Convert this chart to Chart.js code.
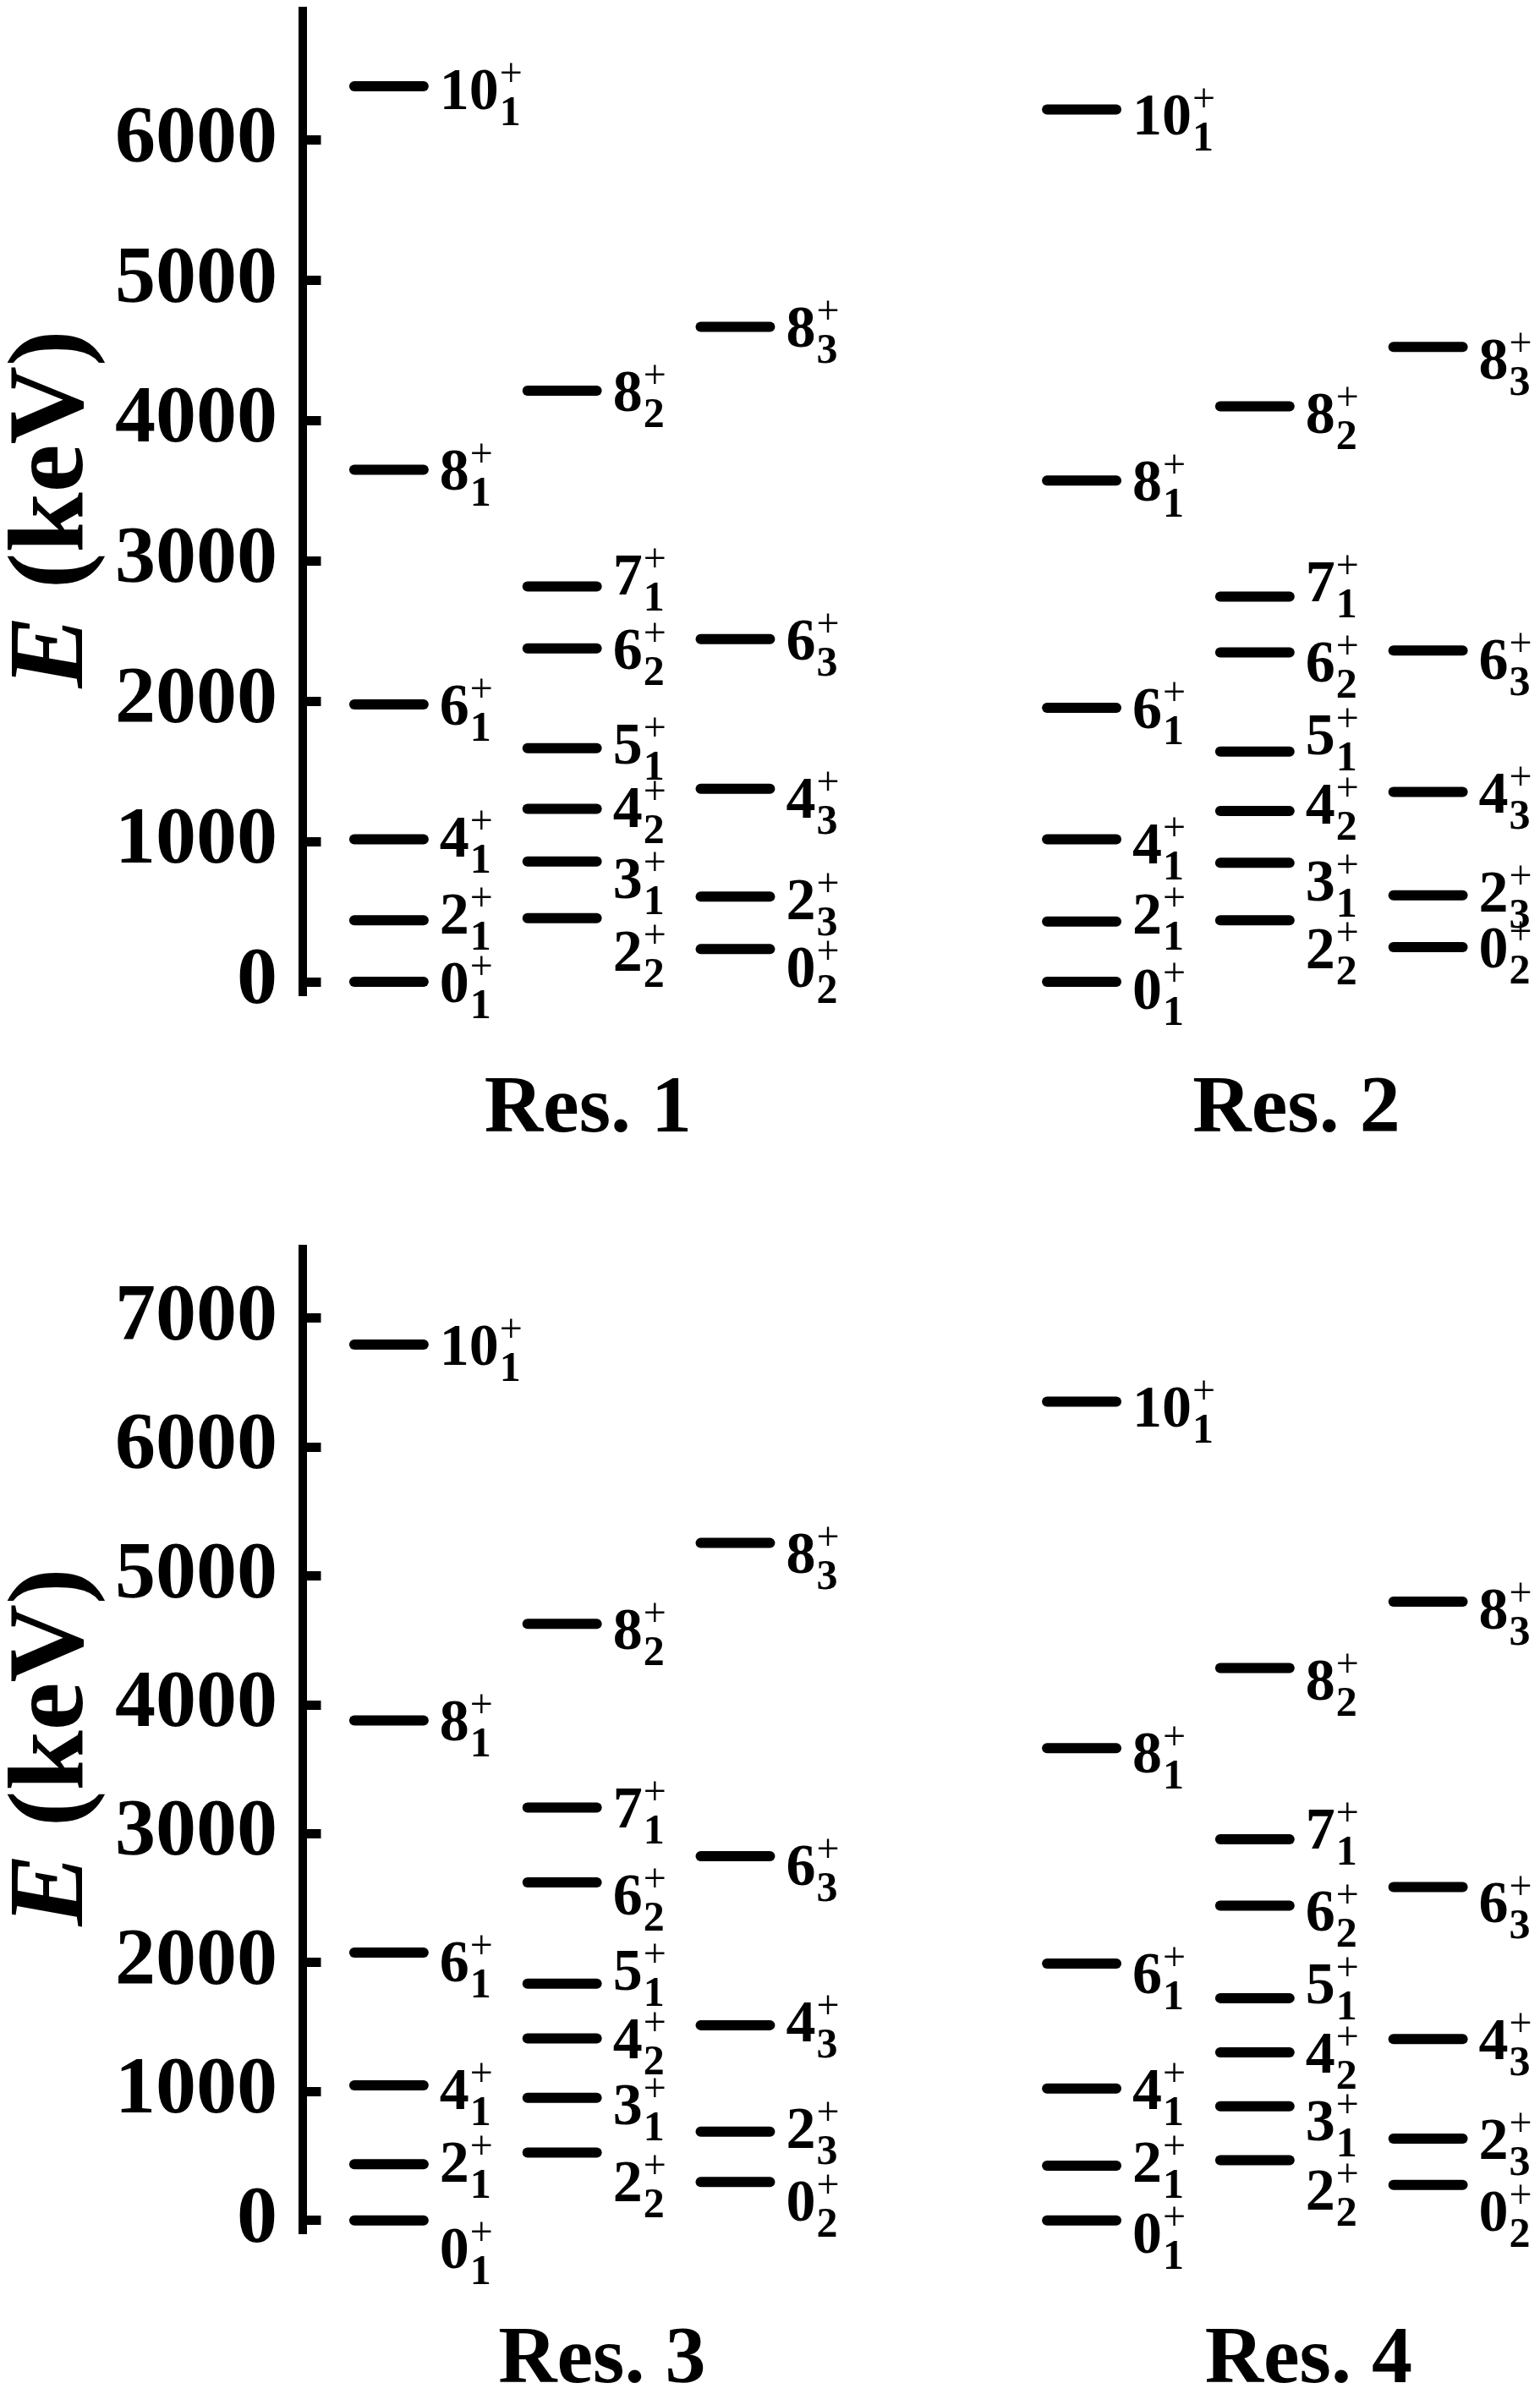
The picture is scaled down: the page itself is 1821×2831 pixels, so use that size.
<!DOCTYPE html>
<html>
<head>
<meta charset="utf-8">
<script src="https://cdn.jsdelivr.net/npm/chart.js@4.4.1/dist/chart.umd.min.js"></script>
<style>
  html, body { margin: 0; padding: 0; background: #fff; }
  canvas { display: block; }
</style>
</head>
<body>
<canvas id="topChart" width="1821" height="1400"></canvas>
<canvas id="bottomChart" width="1821" height="1431"></canvas>
<script>
// ---------- data ----------
// state names J_n, one list per column (same order as the energy lists)
const col1States = ['0_1', '2_1', '4_1', '6_1', '8_1', '10_1'];
const col2States = ['2_2', '3_1', '4_2', '5_1', '6_2', '7_1', '8_2'];
const col3States = ['0_2', '2_3', '4_3', '6_3', '8_3'];

// level energies in keV
const res1Col1 = [0, 439, 1016, 1978, 3651, 6385];
const res1Col2 = [454, 858, 1233, 1665, 2377, 2819, 4214];
const res1Col3 = [233, 607, 1377, 2444, 4670];

const res2Col1 = [0, 429, 1016, 1954, 3574, 6219];
const res2Col2 = [439, 848, 1218, 1641, 2348, 2747, 4103];
const res2Col3 = [247, 617, 1353, 2362, 4526];

const res3Col1 = [0, 437, 1048, 2078, 3880, 6796];
const res3Col2 = [527, 952, 1413, 1838, 2623, 3204, 4629];
const res3Col3 = [299, 689, 1515, 2826, 5257];

const res4Col1 = [0, 425, 1024, 1994, 3665, 6353];
const res4Col2 = [467, 886, 1305, 1725, 2443, 2958, 4287];
const res4Col3 = [275, 635, 1407, 2587, 4802];

const panelTitles = ['Res. 1', 'Res. 2', 'Res. 3', 'Res. 4'];
const topTicks = [0, 1000, 2000, 3000, 4000, 5000, 6000];
const bottomTicks = [0, 1000, 2000, 3000, 4000, 5000, 6000, 7000];

// ---------- layout / style ----------
const FONT = '"Liberation Serif", "Times New Roman", serif';
const columnSlots = [0, 1, 2];   // x slots of the three columns
const rightPanelShift = 4;       // second panel of a row starts 4 slots later
const HALF = 0.2;                // half length of a level bar (slot units)

// vertical label nudges in px (+ = down), to keep labels from colliding
const labelNudge = [
  { '10_1': 3, '2_1': -8, '4_1': -4, '7_1': -14, '5_1': -6, '4_2': -3, '3_1': 19, '2_2': 38, '4_3': 10, '2_3': 3, '0_2': 21 },
  { '10_1': 5, '4_1': 4, '2_1': -10, '0_1': 8, '8_2': 7, '7_1': -18, '6_2': 10, '5_1': -21, '4_2': -9, '3_1': 21, '2_2': 33, '8_3': 14, '6_3': 10, '2_3': -5 },
  { '6_1': 10, '4_1': 4, '2_1': -3, '0_1': 32, '8_2': 6, '6_2': 14, '5_1': -17, '3_1': 7, '2_2': 34, '8_3': 11, '6_3': 10, '4_3': -5, '2_3': -5, '0_2': 22 },
  { '10_1': 5, '8_1': 5, '6_1': 11, '2_1': -5, '0_1': 14, '8_2': 14, '7_1': -13, '6_2': 6, '5_1': -18, '3_1': 16, '2_2': 34, '8_3': 8, '6_3': 17, '0_2': 30 }
];

function levelSets(panel, shift, columns) {
  const states = [col1States, col2States, col3States];
  const out = [];
  columns.forEach((energies, c) => {
    const x = columnSlots[c] + shift;
    energies.forEach((e, i) => {
      out.push({
        label: states[c][i],
        panel: panel,
        data: [{ x: x - HALF, y: e }, { x: x + HALF, y: e }],
        borderColor: '#000',
        borderWidth: 12,
        borderCapStyle: 'round',
        pointRadius: 0,
        fill: false
      });
    });
  });
  return out;
}

// J^+_n labels next to each level
const stateLabels = {
  id: 'stateLabels',
  afterDatasetsDraw(chart) {
    const { ctx, scales: { x: xs, y: ys } } = chart;
    ctx.save();
    ctx.fillStyle = '#000';
    ctx.textAlign = 'left';
    ctx.textBaseline = 'alphabetic';
    chart.data.datasets.forEach(ds => {
      const [spin, idx] = ds.label.split('_');
      const end = ds.data[1];
      const nudge = labelNudge[ds.panel][ds.label] || 0;
      const x = xs.getPixelForValue(end.x) + 6 + 13;
      const base = ys.getPixelForValue(end.y) + nudge + 24;
      ctx.font = 'bold 70px ' + FONT;
      ctx.fillText(spin, x, base);
      const x2 = x + ctx.measureText(spin).width + 1;
      ctx.font = '48px ' + FONT;
      ctx.fillText('+', x2, base - 27);
      ctx.font = 'bold 50px ' + FONT;
      ctx.fillText(idx, x2, base + 19);
    });
    ctx.restore();
  }
};

// rotated "E (keV)" with italic E
const energyTitle = {
  id: 'energyTitle',
  afterDraw(chart, args, opts) {
    const ctx = chart.ctx;
    const fI = 'italic bold 128px ' + FONT;
    const fB = 'bold 128px ' + FONT;
    ctx.save();
    ctx.translate(97, opts.centerY);
    ctx.rotate(-Math.PI / 2);
    ctx.fillStyle = '#000';
    ctx.textBaseline = 'alphabetic';
    ctx.font = fI;
    const wE = ctx.measureText('E').width;
    ctx.font = fB;
    const wR = ctx.measureText(' (keV)').width;
    const x0 = -(wE + wR) / 2;
    ctx.font = fI;
    ctx.fillText('E', x0, 0);
    ctx.font = fB;
    ctx.fillText(' (keV)', x0 + wE, 0);
    ctx.restore();
  }
};

function makeChart(canvas, cfg) {
  return new Chart(canvas, {
    type: 'line',
    data: { datasets: cfg.datasets },
    plugins: [stateLabels, energyTitle],
    options: {
      responsive: false,
      animation: false,
      events: [],
      layout: { padding: { top: cfg.padTop, right: 9.5, bottom: 0, left: 0 } },
      plugins: {
        legend: { display: false },
        tooltip: { enabled: false },
        energyTitle: { centerY: cfg.titleY }
      },
      scales: {
        x: {
          type: 'linear',
          min: -0.5,
          max: 6.6,
          grid: { display: false, drawTicks: false },
          border: { display: false },
          afterBuildTicks: a => { a.ticks = cfg.titleX.map(v => ({ value: v })); },
          afterFit: a => {
            a.height = cfg.xHeight;
            a.paddingLeft = 0;
            a.paddingRight = 0;
          },
          ticks: {
            autoSkip: false,
            maxRotation: 0,
            padding: cfg.titlePad,
            color: '#000',
            font: { family: FONT, weight: 'bold', size: 96, lineHeight: 1 },
            callback: (v, i) => cfg.titles[i]
          }
        },
        y: {
          type: 'linear',
          min: -100,
          max: cfg.yMax,
          afterBuildTicks: a => { a.ticks = cfg.ticks.map(v => ({ value: v })); },
          afterFit: a => {
            a.width = 357.5;
            a.paddingTop = 0;
            a.paddingBottom = 0;
          },
          border: { display: true, color: '#000', width: 10 },
          grid: {
            display: true,
            drawOnChartArea: false,
            drawTicks: true,
            tickLength: -22,
            tickWidth: 11,
            tickColor: '#000',
            lineWidth: 1
          },
          ticks: {
            padding: 51.5,
            color: '#000',
            font: { family: FONT, weight: 'bold', size: 96 },
            callback: v => String(v)
          }
        }
      }
    }
  });
}

makeChart(document.getElementById('topChart'), {
  datasets: [
    ...levelSets(0, 0, [res1Col1, res1Col2, res1Col3]),
    ...levelSets(1, rightPanelShift, [res2Col1, res2Col2, res2Col3])
  ],
  titles: [panelTitles[0], panelTitles[1]],
  titleX: [columnSlots[1] + 0.15, columnSlots[1] + rightPanelShift + 0.24],
  yMax: 6920,
  ticks: topTicks,
  padTop: 13.3,
  xHeight: 222.4,
  titlePad: 88,
  titleY: 602
});

makeChart(document.getElementById('bottomChart'), {
  datasets: [
    ...levelSets(2, 0, [res3Col1, res3Col2, res3Col3]),
    ...levelSets(3, rightPanelShift, [res4Col1, res4Col2, res4Col3])
  ],
  titles: [panelTitles[2], panelTitles[3]],
  titleX: [columnSlots[1] + 0.23, columnSlots[1] + rightPanelShift + 0.31],
  yMax: 7540,
  ticks: bottomTicks,
  padTop: 76.7,
  xHeight: 190,
  titlePad: 103,
  titleY: 666
});
</script>
</body>
</html>
